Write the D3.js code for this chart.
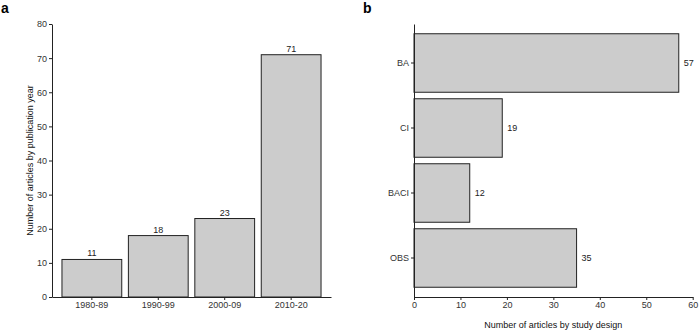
<!DOCTYPE html>
<html>
<head>
<meta charset="utf-8">
<script src="https://cdn.jsdelivr.net/npm/d3@7"></script>
<style>
  body { margin: 0; background: #fff; }
  svg { display: block; font-family: "Liberation Sans", Arial, sans-serif; }
  .eixo path, .eixo line { stroke: #222; }
  .eixo text { font-size: 9px; fill: #333; }
</style>
</head>
<body>
<svg id="grafico"></svg>
<script>
// painel a
const periodos = ['1980-89', '1990-99', '2000-09', '2010-20'];
const artigosPorAno = [11, 18, 23, 71];
const ticksA = [0, 10, 20, 30, 40, 50, 60, 70, 80];

// painel b
const desenhos = ['BA', 'CI', 'BACI', 'OBS'];
const artigosPorDesenho = [57, 19, 12, 35];
const ticksB = [0, 10, 20, 30, 40, 50, 60];

const svg = d3.select('#grafico').attr('width', 700).attr('height', 330);

const topo = 24, base = 297;

// ---- a ----
const a = svg.append('g');
const xA = d3.scaleBand().domain(periodos).range([52, 331]).paddingInner(0.1).paddingOuter(0.15);
const yA = d3.scaleLinear().domain([0, 80]).range([base, topo]);

a.selectAll('.barra')
  .data(periodos.map((p, i) => ({ chave: p, valor: artigosPorAno[i] })))
  .enter()
  .append('rect')
  .attr('x', d => xA(d.chave))
  .attr('y', d => yA(d.valor))
  .attr('width', xA.bandwidth())
  .attr('height', d => base - yA(d.valor))
  .attr('fill', '#cccccc')
  .attr('stroke', '#222')
  .attr('stroke-width', 1);

a.selectAll('.rotulo')
  .data(periodos.map((p, i) => ({ chave: p, valor: artigosPorAno[i] })))
  .enter()
  .append('text')
  .text(d => d.valor)
  .attr('x', d => xA(d.chave) + xA.bandwidth() / 2)
  .attr('y', d => yA(d.valor) - 3)
  .attr('text-anchor', 'middle')
  .attr('font-size', 9)
  .attr('fill', '#222');

a.append('g').attr('class', 'eixo')
  .attr('transform', `translate(0, ${base})`)
  .call(d3.axisBottom(xA).tickSize(3).tickSizeOuter(0).tickPadding(2));

a.append('g').attr('class', 'eixo')
  .attr('transform', 'translate(52, 0)')
  .call(d3.axisLeft(yA).tickValues(ticksA).tickSize(3).tickSizeOuter(0).tickPadding(2));

a.append('text')
  .attr('transform', `translate(33, ${(topo + base) / 2}) rotate(-90)`)
  .attr('text-anchor', 'middle')
  .attr('font-size', 9)
  .attr('fill', '#111')
  .text('Number of articles by publication year');

svg.append('text').attr('x', 1).attr('y', 13)
  .attr('font-size', 14).attr('font-weight', 'bold').text('a');

// ---- b ----
const b = svg.append('g');
const xB = d3.scaleLinear().domain([0, 60]).range([414, 692.7]);
const yB = d3.scaleBand().domain(desenhos).range([topo, base]).paddingInner(0.1).paddingOuter(0.15);

const dadosB = desenhos.map((p, i) => ({ chave: p, valor: artigosPorDesenho[i] }));

b.selectAll('.barra')
  .data(dadosB)
  .enter()
  .append('rect')
  .attr('x', xB(0))
  .attr('y', d => yB(d.chave))
  .attr('width', d => xB(d.valor) - xB(0))
  .attr('height', yB.bandwidth())
  .attr('fill', '#cccccc')
  .attr('stroke', '#222')
  .attr('stroke-width', 1);

b.selectAll('.rotulo')
  .data(dadosB)
  .enter()
  .append('text')
  .text(d => d.valor)
  .attr('x', d => xB(d.valor) + 5)
  .attr('y', d => yB(d.chave) + yB.bandwidth() / 2)
  .attr('dy', '0.35em')
  .attr('font-size', 9)
  .attr('fill', '#222');

b.append('g').attr('class', 'eixo')
  .attr('transform', `translate(0, ${base})`)
  .call(d3.axisBottom(xB).tickValues(ticksB).tickSize(3).tickSizeOuter(0).tickPadding(2));

b.append('g').attr('class', 'eixo')
  .attr('transform', 'translate(414, 0)')
  .call(d3.axisLeft(yB).tickSize(3).tickSizeOuter(0).tickPadding(2));

b.append('text')
  .attr('x', (414 + 692.7) / 2)
  .attr('y', 328)
  .attr('text-anchor', 'middle')
  .attr('font-size', 9)
  .attr('fill', '#111')
  .text('Number of articles by study design');

svg.append('text').attr('x', 363).attr('y', 13)
  .attr('font-size', 14).attr('font-weight', 'bold').text('b');
</script>
</body>
</html>
